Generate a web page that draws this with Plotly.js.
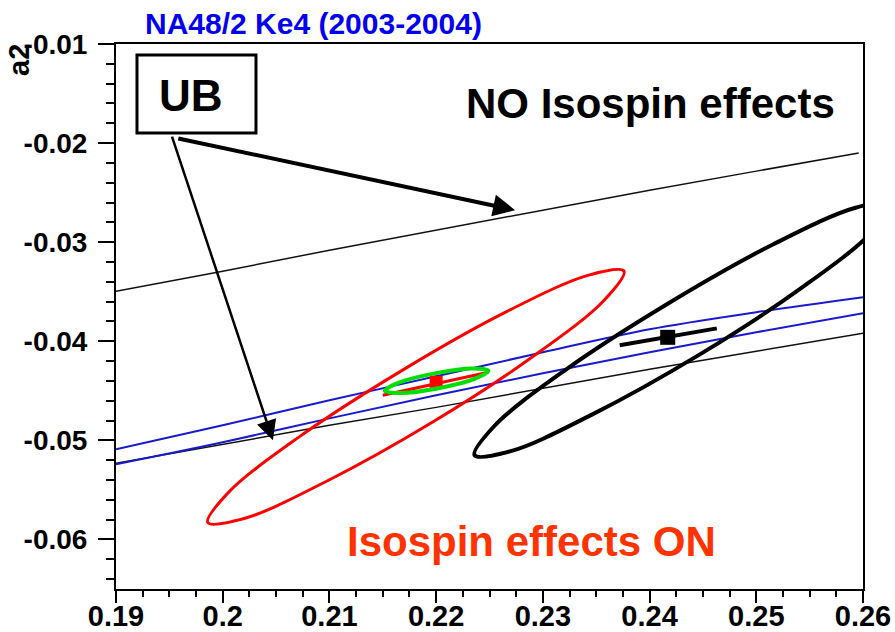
<!DOCTYPE html>
<html><head><meta charset="utf-8">
<script src="https://cdn.plot.ly/plotly-3.0.1.min.js"></script>
<style>html,body{margin:0;padding:0;background:#fff}#chart{width:895px;height:632px}</style>
</head><body><div id="chart"></div>
<script>
// axis ticks
const xTickVals = [0.19, 0.20, 0.21, 0.22, 0.23, 0.24, 0.25, 0.26];
const xTickText = ['0.19', '0.2', '0.21', '0.22', '0.23', '0.24', '0.25', '0.26'];
const yTickVals = [-0.06, -0.05, -0.04, -0.03, -0.02, -0.01];
const yTickText = ['-0.06', '-0.05', '-0.04', '-0.03', '-0.02', '-0.01'];

// UB lines, no isospin effects (black thin)
const ubNoUpperX = [0.19, 0.20, 0.21, 0.22, 0.23, 0.24, 0.25, 0.2596];
const ubNoUpperY = [-0.03495, -0.03293, -0.03081, -0.02879, -0.02677, -0.02475, -0.02283, -0.0210];
const ubNoLowerX = [0.19, 0.20, 0.21, 0.22, 0.23, 0.24, 0.25, 0.26];
const ubNoLowerY = [-0.05232, -0.05040, -0.04848, -0.04667, -0.04475, -0.04283, -0.04101, -0.03919];

// UB lines, isospin effects on (blue)
const ubOnUpperX = [0.19, 0.20, 0.21, 0.22, 0.23, 0.24, 0.25, 0.26];
const ubOnUpperY = [-0.05091, -0.04848, -0.04596, -0.04354, -0.04111, -0.03879, -0.03707, -0.03556];
const ubOnLowerX = [0.19, 0.20, 0.21, 0.22, 0.23, 0.24, 0.25, 0.26];
const ubOnLowerY = [-0.05242, -0.05020, -0.04778, -0.04545, -0.04323, -0.04111, -0.03909, -0.03717];

// red contour (isospin ON)
const redX = [0.2376, 0.2357, 0.2291, 0.2196, 0.2096, 0.2020, 0.1986, 0.2005, 0.2071, 0.2167, 0.2266, 0.2343, 0.2376];
const redY = [-0.03292, -0.03591, -0.04152, -0.04820, -0.05420, -0.05789, -0.05829, -0.05530, -0.04970, -0.04301, -0.03701, -0.03332, -0.03292];

// black contour (no isospin)
const blackX = [0.2626, 0.2607, 0.2541, 0.2446, 0.2346, 0.2270, 0.2236, 0.2255, 0.2321, 0.2417, 0.2516, 0.2593, 0.2626];
const blackY = [-0.02612, -0.02911, -0.03472, -0.04140, -0.04740, -0.05109, -0.05149, -0.04850, -0.04290, -0.03621, -0.03021, -0.02652, -0.02612];

// green contour
const greenX = [0.2249, 0.2236, 0.2202, 0.2167, 0.2152, 0.2165, 0.2199, 0.2234, 0.2249];
const greenY = [-0.04297, -0.04380, -0.04474, -0.04523, -0.04501, -0.04418, -0.04324, -0.04275, -0.04297];

// central values and error segments
const redPointX = [0.2200];
const redPointY = [-0.04414];
const redErrX = [0.2150, 0.2249];
const redErrY = [-0.04545, -0.04313];
const blackPointX = [0.2417];
const blackPointY = [-0.0396];
const blackErrX = [0.2372, 0.2463];
const blackErrY = [-0.0404, -0.0387];

const traces = [
  {x: ubNoUpperX, y: ubNoUpperY, mode: 'lines', line: {color: '#111', width: 1.5}},
  {x: ubNoLowerX, y: ubNoLowerY, mode: 'lines', line: {color: '#111', width: 1.5}},
  {x: ubOnUpperX, y: ubOnUpperY, mode: 'lines', line: {color: '#1a1acc', width: 2, shape: 'spline'}},
  {x: ubOnLowerX, y: ubOnLowerY, mode: 'lines', line: {color: '#1a1acc', width: 2, shape: 'spline'}},
  {x: redX, y: redY, mode: 'lines', line: {color: '#ff0000', width: 3, shape: 'spline', smoothing: 1}},
  {x: blackX, y: blackY, mode: 'lines', line: {color: '#000', width: 4, shape: 'spline', smoothing: 1}},
  {x: redErrX, y: redErrY, mode: 'lines', line: {color: '#ff0000', width: 3}},
  {x: redPointX, y: redPointY, mode: 'markers', marker: {symbol: 'square', size: 13, color: '#ff0000'}},
  {x: greenX, y: greenY, mode: 'lines', line: {color: '#00dd00', width: 4, shape: 'spline', smoothing: 1}},
  {x: blackErrX, y: blackErrY, mode: 'lines', line: {color: '#000', width: 4}},
  {x: blackPointX, y: blackPointY, mode: 'markers', marker: {symbol: 'square', size: 15, color: '#000'}}
];

const fam = 'Liberation Sans, Arial, sans-serif';

const layout = {
  width: 895, height: 632,
  margin: {l: 116, r: 32, t: 44, b: 43},
  paper_bgcolor: '#fff', plot_bgcolor: '#fff',
  showlegend: false,
  xaxis: {
    range: [0.19, 0.26], tickmode: 'array', tickvals: xTickVals, ticktext: xTickText,
    showgrid: false, zeroline: false, showline: true, linecolor: '#000', linewidth: 2, mirror: true,
    ticks: 'outside', ticklen: 12, tickwidth: 2, tickcolor: '#000',
    tickfont: {family: fam, size: 29, color: '#000', weight: 700}, ticklabelstandoff: -12,
    minor: {tick0: 0.19, dtick: 0.0025, ticks: 'outside', ticklen: 6, tickwidth: 2, tickcolor: '#000', showgrid: false}
  },
  yaxis: {
    range: [-0.065, -0.01], tickmode: 'array', tickvals: yTickVals, ticktext: yTickText,
    showgrid: false, zeroline: false, showline: true, linecolor: '#000', linewidth: 2, mirror: true,
    ticks: 'outside', ticklen: 16, tickwidth: 2, tickcolor: '#000',
    tickfont: {family: fam, size: 28, color: '#000', weight: 700}, ticklabelstandoff: 5,
    minor: {tick0: -0.06, dtick: 0.002, ticks: 'outside', ticklen: 8, tickwidth: 2, tickcolor: '#000', showgrid: false}
  },
  shapes: [
    {type: 'line', xref: 'paper', yref: 'paper', x0: -0.0214, x1: 0, y0: 1, y1: 1, line: {color: '#000', width: 2}},
    {type: 'rect', xref: 'paper', yref: 'paper', x0: 0.0281, x1: 0.1874, y0: 0.8367, y1: 0.9798, fillcolor: '#fff', line: {color: '#000', width: 3}, layer: 'above'}
  ],
  annotations: [
    {xref: 'paper', yref: 'paper', x: 0.036, y: 1.0385, xanchor: 'left', yanchor: 'middle', showarrow: false,
     text: 'NA48/2 Ke4 (2003-2004)', font: {family: fam, size: 30, color: '#0000ee', weight: 700}},
    {xref: 'paper', yref: 'paper', x: -0.129, y: 0.97, xanchor: 'center', yanchor: 'middle', showarrow: false, textangle: -90,
     text: 'a2', font: {family: fam, size: 29, color: '#000', weight: 700}},
    {xref: 'paper', yref: 'paper', x: 0.1, y: 0.905, xanchor: 'center', yanchor: 'middle', showarrow: false,
     text: 'UB', font: {family: fam, size: 44, color: '#000', weight: 700}},
    {xref: 'paper', yref: 'paper', x: 0.9656, y: 0.89, xanchor: 'right', yanchor: 'middle', showarrow: false,
     text: 'NO Isospin effects', font: {family: fam, size: 42, color: '#000', weight: 700}},
    {xref: 'paper', yref: 'paper', x: 0.3065, y: 0.088, xanchor: 'left', yanchor: 'middle', showarrow: false,
     text: 'Isospin effects ON', font: {family: fam, size: 42, color: '#ff3300', weight: 700}},
    {x: 0.2274, y: -0.02677, xref: 'x', yref: 'y', ax: 0.1957, ay: -0.0195, axref: 'x', ayref: 'y',
     text: '', showarrow: true, arrowhead: 2, arrowsize: 1.1, arrowwidth: 4, arrowcolor: '#000', standoff: 0},
    {x: 0.2047, y: -0.0500, xref: 'x', yref: 'y', ax: 0.1952, ay: -0.01919, axref: 'x', ayref: 'y',
     text: '', showarrow: true, arrowhead: 2, arrowsize: 1.6, arrowwidth: 2.5, arrowcolor: '#000', standoff: 0}
  ]
};

// white core line to give the first arrow its double-line shaft
layout.shapes.push({type: 'line', xref: 'x', yref: 'y', x0: 0.1959, y0: -0.01955, x1: 0.2234, y1: -0.02588,
  line: {color: '#fff', width: 1.2}, layer: 'above'});

Plotly.newPlot('chart', traces, layout, {displayModeBar: false, staticPlot: true});
</script>
</body></html>
